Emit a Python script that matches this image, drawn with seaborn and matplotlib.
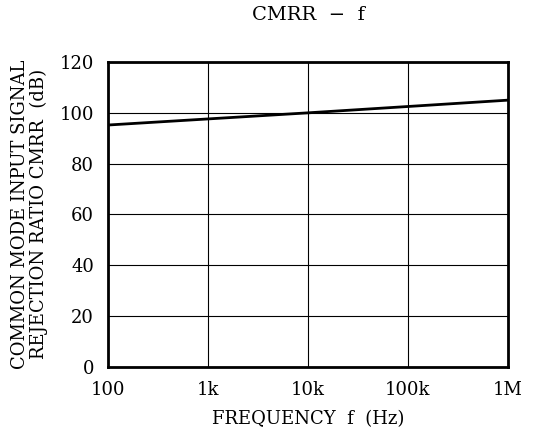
from matplotlib import pyplot as plt
import seaborn as sns
import pandas as pd

freq = [100, 1000, 10000, 100000, 1000000]
cmrr = [95.2, 97.6, 100.0, 102.5, 105.0]
xticks = [100, 1000, 10000, 100000, 1000000]
xlabels = ['100', '1k', '10k', '100k', '1M']
yticks = [0, 20, 40, 60, 80, 100, 120]

sns.set_style('white')
plt.rcParams['font.family'] = ['DejaVu Serif']
plt.rcParams['text.color'] = 'black'
plt.rcParams['axes.labelcolor'] = 'black'
plt.rcParams['xtick.color'] = 'black'
plt.rcParams['ytick.color'] = 'black'

df = pd.DataFrame({'f': freq, 'cmrr': cmrr})

fig, ax = plt.subplots(figsize=(5.37, 4.34), dpi=100)
fig.subplots_adjust(left=0.201, right=0.946, top=0.857, bottom=0.155)
sns.lineplot(data=df, x='f', y='cmrr', color='black', linewidth=2, ax=ax)
ax.set_xscale('log')
ax.set_xlim(100, 1000000)
ax.set_ylim(0, 120)
ax.set_xticks(xticks)
ax.set_xticklabels(xlabels)
ax.set_yticks(yticks)
ax.minorticks_off()
ax.grid(True, color='black', linewidth=0.8)
ax.tick_params(length=0, labelsize=13, pad=10)
for s in ax.spines.values():
    s.set_linewidth(2)
    s.set_color('black')
ax.set_xlabel('FREQUENCY  f  (Hz)', fontsize=13, labelpad=8)
ax.set_ylabel('COMMON MODE INPUT SIGNAL\nREJECTION RATIO CMRR  (dB)', fontsize=13, labelpad=8, linespacing=1.1)
ax.set_title('CMRR  −  f', fontsize=14, pad=30)
plt.savefig('out.png')
